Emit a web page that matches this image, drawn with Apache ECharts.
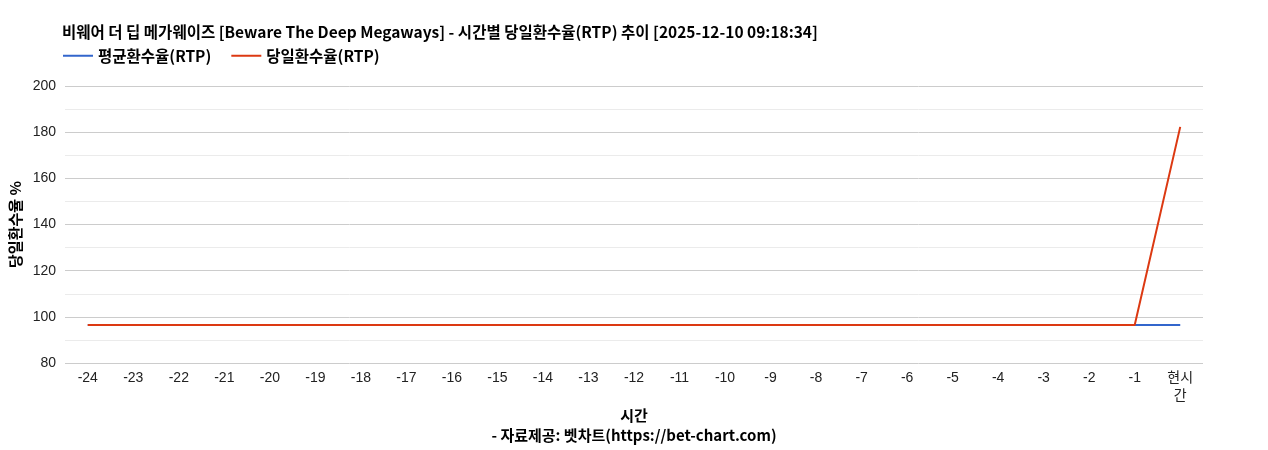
<!DOCTYPE html>
<html><head><meta charset="utf-8">
<script src="https://cdn.jsdelivr.net/npm/echarts@6/dist/echarts.min.js"></script>
<style>html,body{margin:0;padding:0;background:#fff}#c{width:1268px;height:450px}</style>
</head><body><div id="c"></div>
<script>
const categories = ['-24','-23','-22','-21','-20','-19','-18','-17','-16','-15','-14','-13','-12','-11','-10','-9','-8','-7','-6','-5','-4','-3','-2','-1','현시\n간'];
const avgRtp = [96.5,96.5,96.5,96.5,96.5,96.5,96.5,96.5,96.5,96.5,96.5,96.5,96.5,96.5,96.5,96.5,96.5,96.5,96.5,96.5,96.5,96.5,96.5,96.5,96.5];
const dailyRtp = [96.5,96.5,96.5,96.5,96.5,96.5,96.5,96.5,96.5,96.5,96.5,96.5,96.5,96.5,96.5,96.5,96.5,96.5,96.5,96.5,96.5,96.5,96.5,96.5,182.3];
const titleText = '비웨어 더 딥 메가웨이즈 [Beware The Deep Megaways] - 시간별 당일환수율(RTP) 추이 [2025-12-10 09:18:34]';
const seriesNames = ['평균환수율(RTP)','당일환수율(RTP)'];
const chart = echarts.init(document.getElementById('c'));
const cjk = '"Noto Sans CJK KR", "Liberation Sans", sans-serif';
chart.setOption({
  animation:false,
  title:{text:titleText,left:57,top:19,textStyle:{fontFamily:cjk,fontSize:15.5,fontWeight:'bold',color:'#000'}},
  legend:{left:58,top:43,itemWidth:30,itemHeight:2,itemGap:20,icon:'rect',
    textStyle:{fontFamily:cjk,fontSize:15.5,fontWeight:'bold',color:'#000'},data:seriesNames},
  grid:{left:63,right:65,top:86,bottom:87},
  xAxis:{type:'category',data:categories,boundaryGap:true,
    name:'시간',nameLocation:'middle',nameGap:45,nameMoveOverlap:false,
    nameTextStyle:{fontFamily:cjk,fontSize:15,fontWeight:'bold',color:'#000'},
    axisLine:{show:false},axisTick:{show:false},
    axisLabel:{interval:0,fontFamily:'"Liberation Sans", "Noto Sans CJK KR", sans-serif',fontSize:14,color:'#222',margin:6,lineHeight:18}},
  yAxis:{type:'value',min:80,max:200,interval:20,
    name:'당일환수율 %',nameLocation:'middle',nameGap:42,nameMoveOverlap:false,
    nameTextStyle:{fontFamily:cjk,fontSize:15,fontWeight:'bold',color:'#000'},
    axisLine:{show:false},axisTick:{show:false},
    axisLabel:{fontFamily:'"Liberation Sans", sans-serif',fontSize:14,color:'#222',margin:9},
    splitLine:{lineStyle:{color:'#cccccc'}},
    minorTick:{show:false,splitNumber:2},
    minorSplitLine:{show:true,lineStyle:{color:'#ebebeb'}}},
  graphic:[{type:'text',left:'center',top:428,style:{text:'- 자료제공: 벳차트(https://bet-chart.com)',font:'bold 15px "Noto Sans CJK KR", sans-serif',fill:'#000'}}],
  series:[
    {name:seriesNames[0],type:'line',data:avgRtp,symbol:'none',itemStyle:{color:'#3366cc'},lineStyle:{width:2,color:'#3366cc'}},
    {name:seriesNames[1],type:'line',data:dailyRtp,symbol:'none',itemStyle:{color:'#dc3912'},lineStyle:{width:2,color:'#dc3912'}}
  ]
});
</script></body></html>
